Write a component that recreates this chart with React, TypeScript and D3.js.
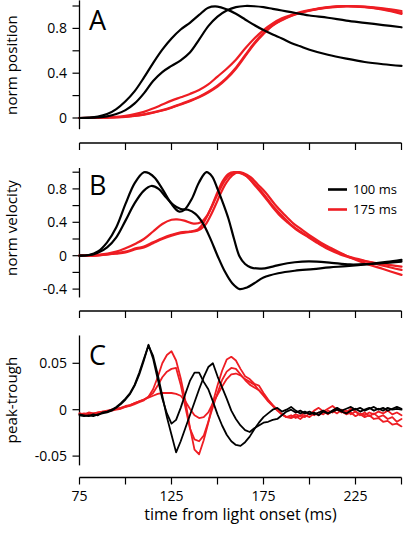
import React from "react";
import * as d3 from "d3";

// ---------- shared x (time, ms) ----------
const xTicks = [75, 100, 125, 150, 175, 200, 225, 250];
const xTickLabels = ["75", "", "125", "", "175", "", "225", ""];

// ---------- Panel A: norm position ----------
const posT = [75, 80, 85, 90, 95, 100, 105, 110, 115, 120, 125, 130, 135, 140, 145, 150, 155, 160, 165, 170, 175, 180, 185, 190, 195, 200, 210, 220, 230, 240, 250];
const posBlackFast = [0, 0.003, 0.012, 0.035, 0.08, 0.15, 0.24, 0.36, 0.49, 0.61, 0.71, 0.79, 0.85, 0.92, 0.985, 0.995, 0.97, 0.93, 0.88, 0.83, 0.785, 0.745, 0.71, 0.67, 0.64, 0.61, 0.565, 0.53, 0.5, 0.48, 0.465];
const posBlackSlow = [0, 0.002, 0.006, 0.015, 0.035, 0.07, 0.13, 0.22, 0.33, 0.41, 0.465, 0.515, 0.585, 0.7, 0.82, 0.905, 0.96, 0.99, 1.0, 0.998, 0.99, 0.975, 0.96, 0.945, 0.93, 0.915, 0.895, 0.87, 0.85, 0.83, 0.81];
const posRed1 = [0, 0.001, 0.003, 0.006, 0.01, 0.02, 0.035, 0.055, 0.085, 0.12, 0.155, 0.185, 0.215, 0.25, 0.3, 0.37, 0.44, 0.52, 0.62, 0.71, 0.785, 0.845, 0.89, 0.92, 0.945, 0.963, 0.99, 1.0, 0.995, 0.98, 0.955];
const posRed2 = [0, 0, 0.002, 0.004, 0.007, 0.012, 0.02, 0.033, 0.05, 0.07, 0.095, 0.125, 0.155, 0.19, 0.235, 0.29, 0.36, 0.45, 0.56, 0.67, 0.76, 0.83, 0.878, 0.913, 0.94, 0.96, 0.988, 0.999, 0.992, 0.972, 0.94];
const posRed3 = [0, 0, 0.002, 0.004, 0.006, 0.01, 0.018, 0.03, 0.047, 0.067, 0.092, 0.12, 0.15, 0.185, 0.228, 0.28, 0.35, 0.44, 0.55, 0.66, 0.75, 0.825, 0.873, 0.91, 0.937, 0.958, 0.985, 0.997, 0.99, 0.968, 0.93];

// ---------- Panel B: norm velocity ----------
const velBlackAT = [75, 80, 85, 90, 95, 100, 105, 110, 113, 116, 120, 125, 129, 132, 136, 140, 144, 147, 150, 153, 156, 159, 162, 165, 168, 174, 180, 188, 196, 204, 212, 222, 232, 242, 250];
const velBlackA = [0, 0.008, 0.05, 0.16, 0.34, 0.62, 0.87, 1.0, 0.985, 0.93, 0.8, 0.62, 0.53, 0.55, 0.68, 0.88, 1.0, 0.95, 0.8, 0.63, 0.44, 0.2, -0.01, -0.1, -0.14, -0.155, -0.13, -0.09, -0.07, -0.07, -0.085, -0.105, -0.1, -0.085, -0.07];
const velBlackBT = [75, 80, 85, 90, 95, 100, 105, 110, 114, 118, 122, 126, 130, 134, 138, 142, 146, 150, 154, 158, 162, 166, 170, 175, 183, 192, 202, 211, 220, 232, 242, 250];
const velBlackB = [0, 0.005, 0.035, 0.1, 0.22, 0.42, 0.63, 0.78, 0.835, 0.8, 0.7, 0.61, 0.56, 0.55, 0.5, 0.39, 0.21, 0.0, -0.19, -0.33, -0.4, -0.38, -0.33, -0.26, -0.21, -0.18, -0.16, -0.14, -0.125, -0.1, -0.075, -0.05];
const velRed1T = [75, 85, 95, 100, 106, 110, 115, 120, 125, 128, 132, 137, 141, 144, 147, 150, 153, 156, 159, 162, 166, 170, 175, 180, 184, 188, 193, 198, 203, 210, 220, 230, 240, 250];
const velRed1 = [0, 0.01, 0.05, 0.09, 0.15, 0.2, 0.29, 0.38, 0.43, 0.435, 0.42, 0.385, 0.4, 0.47, 0.6, 0.76, 0.9, 0.98, 1.0, 0.99, 0.95, 0.85, 0.72, 0.58, 0.48, 0.4, 0.31, 0.24, 0.17, 0.08, -0.01, -0.065, -0.1, -0.13];
const velRed2T = [75, 85, 95, 100, 106, 110, 115, 120, 125, 130, 135, 139, 142, 145, 148, 151, 154, 157, 160, 163, 167, 171, 175, 180, 185, 190, 195, 200, 205, 210, 220, 230, 240, 250];
const velRed2 = [0, 0.004, 0.03, 0.05, 0.09, 0.11, 0.16, 0.21, 0.25, 0.28, 0.29, 0.31, 0.38, 0.5, 0.64, 0.78, 0.9, 0.97, 1.0, 0.99, 0.93, 0.84, 0.74, 0.6, 0.48, 0.37, 0.29, 0.22, 0.15, 0.09, 0.0, -0.06, -0.12, -0.17];
const velRed3T = [75, 85, 95, 100, 106, 110, 115, 120, 125, 130, 135, 139, 143, 146, 149, 152, 155, 158, 161, 164, 168, 172, 176, 181, 186, 191, 196, 201, 206, 211, 220, 230, 240, 250];
const velRed3 = [0, 0.003, 0.025, 0.04, 0.08, 0.1, 0.15, 0.2, 0.24, 0.27, 0.285, 0.3, 0.36, 0.47, 0.61, 0.76, 0.88, 0.96, 1.0, 0.99, 0.94, 0.85, 0.76, 0.62, 0.5, 0.39, 0.31, 0.23, 0.16, 0.1, 0.0, -0.09, -0.16, -0.23];

// ---------- Panel C: peak-trough (values in thousandths) ----------
const ptT = [75, 77.5, 80, 82.5, 85, 87.5, 90, 92.5, 95, 97.5, 100, 102.5, 105, 107.5, 110, 112.5, 115, 117.5, 120, 122.5, 125, 127.5, 130, 132.5, 135, 137.5, 140, 142.5, 145, 147.5, 150, 152.5, 155, 157.5, 160, 162.5, 165, 167.5, 170, 172.5, 175, 177.5, 180, 182.5, 185, 187.5, 190, 192.5, 195, 197.5, 200, 202.5, 205, 207.5, 210, 212.5, 215, 217.5, 220, 222.5, 225, 227.5, 230, 232.5, 235, 237.5, 240, 242.5, 245, 247.5, 250];
const ptBlackX = [-6, -7, -6, -7, -5, -4, -3, -1, 2, 6, 11, 17, 26, 38, 53, 70, 55, 33, 12, -4, -15, -11, 2, 17, 31, 40, 40, 30, 22, 9, -5, -17, -27, -34, -38, -39, -35, -29, -21, -14, -8, -4, 0, 2, -2, 0, 3, -1, -4, -2, -5, -3, -6, -2, -4, -1, 2, -1, 1, 3, 0, 2, -1, 1, 3, 0, 2, -1, 1, 3, 1];
const ptBlackY = [-5, -6, -7, -5, -6, -3, -2, 0, 3, 7, 12, 18, 27, 40, 55, 69, 58, 38, 15, -8, -27, -46, -34, -20, -6, 8, 22, 35, 46, 50, 36, 24, 12, -1, -10, -17, -22, -24, -20, -17, -14, -13, -11, -10, -6, -2, 0, -3, -1, -4, -2, -5, -3, -1, -4, -2, 0, -2, -4, -1, 1, -2, 0, 2, -1, 1, -1, 2, 0, 1, 0];
const ptRedTall = [-4, -5, -4, -5, -3, -3, -2, -1, 0, 1, 3, 4, 6, 8, 10, 14, 22, 35, 50, 59, 63, 53, 34, 10, -19, -43, -48, -33, -14, 8, 26, 42, 54, 57, 53, 44, 36, 33, 28, 26, 18, 11, 5, 0, -5, -8, -8, -5, -7, -3, -5, -1, 2, -2, 1, 4, 0, -3, -1, -5, -2, -6, -3, -7, -4, -8, -6, -10, -8, -13, -10];
const ptRedMid = [-5, -4, -5, -4, -4, -2, -2, 0, 1, 2, 3, 5, 7, 9, 11, 14, 18, 26, 35, 41, 44, 45, 27, 3, -20, -32, -34, -28, -13, 3, 18, 32, 41, 45, 44, 38, 32, 27, 24, 21, 16, 10, 5, -1, -5, -8, -6, -9, -6, -8, -4, -6, -3, -5, -1, -3, 1, -2, -5, -3, -7, -4, -6, -3, -5, -2, -4, -1, -5, -3, -6];
const ptRedSmall = [-4, -5, -3, -4, -3, -2, -1, 0, 1, 2, 4, 5, 7, 9, 11, 13, 15, 17, 18, 18, 18, 17, 15, 9, 1, -6, -9, -8, -3, 7, 16, 25, 33, 38, 39, 37, 33, 30, 27, 21, 15, 9, 4, 0, -5, -8, -9, -7, -10, -6, -8, -4, -6, -2, -5, -1, -4, 0, -3, 1, -2, -5, -8, -6, -10, -9, -13, -12, -16, -15, -18];

// ---------- axis ticks ----------
const posTicks = [0, 0.2, 0.4, 0.6, 0.8, 1.0];
const posLabels = ["0", "", "0.4", "", "0.8", ""];
const velTicks = [-0.4, -0.2, 0, 0.2, 0.4, 0.6, 0.8, 1.0];
const velLabels = ["-0.4", "", "0", "", "0.4", "", "0.8", ""];
const ptTicks = [-50, 0, 50];
const ptLabels = ["-0.05", "0", "0.05"];

const legendLabels = ["100 ms", "175 ms"];

const BLACK = "#000";
const RED = "#ee1d23";
const FONT = "'Open Sans', 'Noto Sans', sans-serif";

const W = 403;
const H = 533;

const x = d3.scaleLinear().domain([75, 250]).range([79.5, 401.5]);

type Panel = {
  y: d3.ScaleLinear<number, number>;
  ext: [number, number];
  ticks: number[];
  labels: string[];
  xAxisY: number;
  title: string;
  titleY: number;
  letter: string;
  letterY: number;
};

const panelA: Panel = {
  y: d3.scaleLinear().domain([0, 1]).range([118, 6]),
  ext: [-0.1, 1.05],
  ticks: posTicks,
  labels: posLabels,
  xAxisY: 143,
  title: "norm position",
  titleY: 65,
  letter: "A",
  letterY: 30,
};
const panelB: Panel = {
  y: d3.scaleLinear().domain([0, 1]).range([255.7, 172.2]),
  ext: [-0.5, 1.05],
  ticks: velTicks,
  labels: velLabels,
  xAxisY: 311,
  title: "norm velocity",
  titleY: 228,
  letter: "B",
  letterY: 195,
};
const panelC: Panel = {
  y: d3.scaleLinear().domain([0, 50]).range([409.7, 363.3]),
  ext: [-60, 80],
  ticks: ptTicks,
  labels: ptLabels,
  xAxisY: 477.5,
  title: "peak-trough",
  titleY: 400,
  letter: "C",
  letterY: 365,
};

function smoothPath(p: Panel, T: number[], V: number[]) {
  const gen = d3
    .line<[number, number]>()
    .x((d) => x(d[0]))
    .y((d) => p.y(d[1]))
    .curve(d3.curveCatmullRom.alpha(0.5));
  return gen(d3.zip(T, V) as [number, number][]) || "";
}

function roughPath(p: Panel, T: number[], V: number[]) {
  const gen = d3
    .line<[number, number]>()
    .x((d) => x(d[0]))
    .y((d) => p.y(d[1]))
    .curve(d3.curveLinear);
  return gen(d3.zip(T, V) as [number, number][]) || "";
}

function Axes({ p, showXLabels }: { p: Panel; showXLabels: boolean }) {
  const x0 = x(75);
  return (
    <g>
      {/* y axis */}
      <line x1={x0} x2={x0} y1={p.y(p.ext[1])} y2={p.y(p.ext[0])} stroke={BLACK} strokeWidth={1.3} />
      {p.ticks.map((t, i) => (
        <g key={"yt" + i}>
          <line x1={x0 - 7} x2={x0} y1={p.y(t)} y2={p.y(t)} stroke={BLACK} strokeWidth={1.2} />
          {p.labels[i] !== "" && (
            <text x={x0 - 12.5} y={p.y(t)} dy="0.36em" textAnchor="end" fontSize={14} fontFamily={FONT}>
              {p.labels[i]}
            </text>
          )}
        </g>
      ))}
      {/* x axis */}
      <line x1={x(75)} x2={x(250)} y1={p.xAxisY} y2={p.xAxisY} stroke={BLACK} strokeWidth={1.3} />
      {xTicks.map((t, i) => (
        <g key={"xt" + i}>
          <line x1={x(t)} x2={x(t)} y1={p.xAxisY} y2={p.xAxisY + 7} stroke={BLACK} strokeWidth={1.2} />
          {showXLabels && xTickLabels[i] !== "" && (
            <text x={x(t)} y={500.5} textAnchor="middle" fontSize={14} fontFamily={FONT}>
              {xTickLabels[i]}
            </text>
          )}
        </g>
      ))}
      <text
        transform={`translate(16.5,${p.titleY}) rotate(-90)`}
        textAnchor="middle"
        fontSize={15.2}
        fontFamily={FONT}
      >
        {p.title}
      </text>
      <text x={89} y={p.letterY} fontSize={27} fontFamily={FONT}>
        {p.letter}
      </text>
    </g>
  );
}

export default function App() {
  const lw = 2.2;
  const lwC = 1.8;
  return (
    <svg
      width={W}
      height={H}
      viewBox={`0 0 ${W} ${H}`}
      style={{ position: "absolute", left: 0, top: 0, background: "#fff" }}
    >
      <rect x={0} y={0} width={W} height={H} fill="#fff" />

      {/* Panel A */}
      <Axes p={panelA} showXLabels={false} />
      <g fill="none" strokeLinejoin="round" strokeLinecap="round">
        <path d={smoothPath(panelA, posT, posRed3)} stroke={RED} strokeWidth={lw} />
        <path d={smoothPath(panelA, posT, posRed2)} stroke={RED} strokeWidth={lw} />
        <path d={smoothPath(panelA, posT, posRed1)} stroke={RED} strokeWidth={lw} />
        <path d={smoothPath(panelA, posT, posBlackSlow)} stroke={BLACK} strokeWidth={lw} />
        <path d={smoothPath(panelA, posT, posBlackFast)} stroke={BLACK} strokeWidth={lw} />
      </g>

      {/* Panel B */}
      <Axes p={panelB} showXLabels={false} />
      <g fill="none" strokeLinejoin="round" strokeLinecap="round">
        <path d={smoothPath(panelB, velRed3T, velRed3)} stroke={RED} strokeWidth={lw} />
        <path d={smoothPath(panelB, velRed2T, velRed2)} stroke={RED} strokeWidth={lw} />
        <path d={smoothPath(panelB, velRed1T, velRed1)} stroke={RED} strokeWidth={lw} />
        <path d={smoothPath(panelB, velBlackBT, velBlackB)} stroke={BLACK} strokeWidth={lw} />
        <path d={smoothPath(panelB, velBlackAT, velBlackA)} stroke={BLACK} strokeWidth={lw} />
      </g>
      {/* legend */}
      {legendLabels.map((lab, i) => (
        <g key={lab}>
          <line x1={328} x2={347} y1={189.5 + i * 20} y2={189.5 + i * 20} stroke={i === 0 ? BLACK : RED} strokeWidth={2.6} />
          <text x={353} y={189.5 + i * 20} dy="0.36em" fontSize={13} fontFamily={FONT}>
            {lab}
          </text>
        </g>
      ))}

      {/* Panel C */}
      <Axes p={panelC} showXLabels={true} />
      <g fill="none" strokeLinejoin="round" strokeLinecap="round">
        <path d={roughPath(panelC, ptT, ptRedSmall)} stroke={RED} strokeWidth={lwC} />
        <path d={roughPath(panelC, ptT, ptRedMid)} stroke={RED} strokeWidth={lwC} />
        <path d={roughPath(panelC, ptT, ptRedTall)} stroke={RED} strokeWidth={lwC} />
        <path d={roughPath(panelC, ptT, ptBlackY)} stroke={BLACK} strokeWidth={lwC} />
        <path d={roughPath(panelC, ptT, ptBlackX)} stroke={BLACK} strokeWidth={lwC} />
      </g>
      <text x={x(162.5)} y={520} textAnchor="middle" fontSize={16} fontFamily={FONT}>
        time from light onset (ms)
      </text>
    </svg>
  );
}
